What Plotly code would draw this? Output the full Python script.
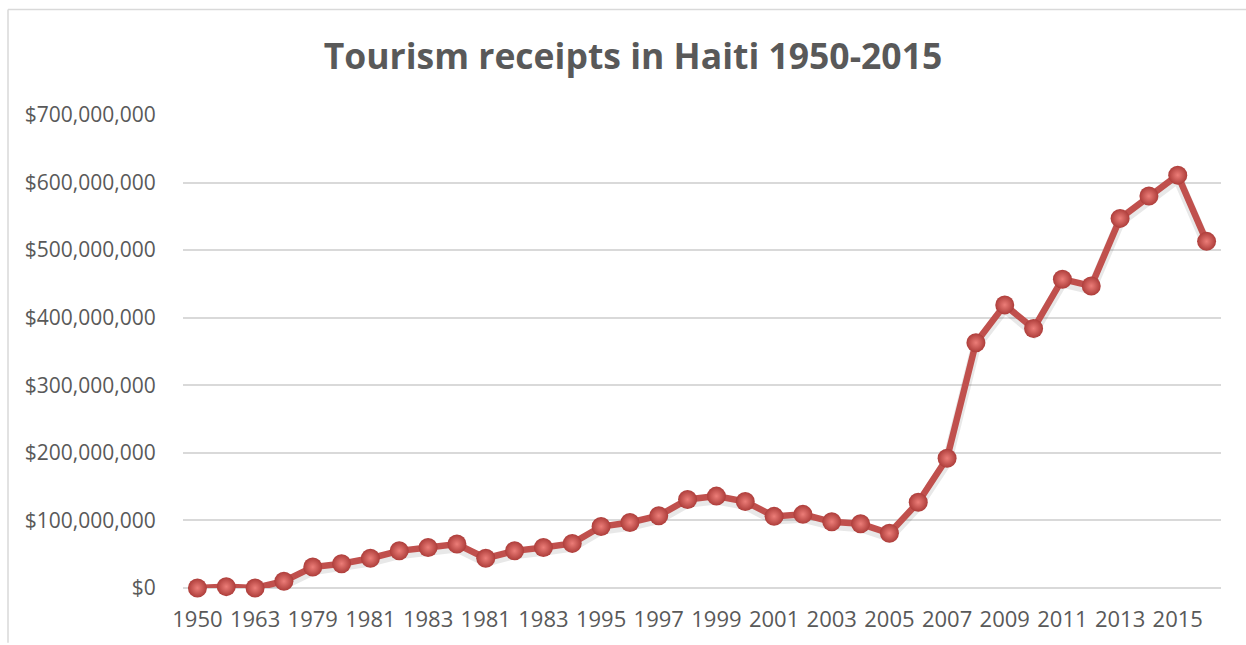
import plotly.graph_objects as go

# Category labels for each data point (every second one is shown on the axis)
categories = [
    "1950", "1960", "1963", "1970", "1979", "1980", "1981", "1982", "1983",
    "1984", "1981", "1982", "1983", "1994", "1995", "1996", "1997", "1998",
    "1999", "2000", "2001", "2002", "2003", "2004", "2005", "2006", "2007",
    "2008", "2009", "2010", "2011", "2012", "2013", "2014", "2015", "2016",
]

# Tourism receipts in US dollars
receipts = [
    0, 2_000_000, 0, 10_000_000, 31_000_000, 36_000_000, 44_000_000,
    55_000_000, 60_000_000, 65_000_000, 44_000_000, 55_000_000, 60_000_000,
    66_000_000, 91_000_000, 97_000_000, 107_000_000, 131_000_000,
    136_000_000, 128_000_000, 106_000_000, 109_000_000, 98_000_000,
    95_000_000, 81_000_000, 127_000_000, 192_000_000, 363_000_000,
    419_000_000, 384_000_000, 457_000_000, 447_000_000, 547_000_000,
    580_000_000, 611_000_000, 513_000_000,
]

y_ticks = [0, 100_000_000, 200_000_000, 300_000_000, 400_000_000,
           500_000_000, 600_000_000, 700_000_000]
y_tick_labels = ["$0", "$100,000,000", "$200,000,000", "$300,000,000",
                 "$400,000,000", "$500,000,000", "$600,000,000", "$700,000,000"]

x_idx = list(range(len(categories)))
text_grey = "#595959"
grid_grey = "#d9d9d9"
line_red = "#c0504d"

W, H = 1246, 645
L, R, T, B = 183, 25, 115, 55
pw, ph = W - L - R, H - T - B

fig = go.Figure()

# soft shadow beneath the line
fig.add_trace(go.Scatter(
    x=x_idx, y=[v - 5_000_000 for v in receipts], mode="lines",
    line=dict(color="rgba(0,0,0,0.09)", width=10),
    hoverinfo="skip", showlegend=False, cliponaxis=False,
))

fig.add_trace(go.Scatter(
    x=x_idx, y=receipts, mode="lines+markers",
    line=dict(color=line_red, width=6.5),
    marker=dict(
        size=19, color="#ad3d3a",
        gradient=dict(type="radial", color="#ec7d78"),
        line=dict(width=0),
    ),
    cliponaxis=False,
    text=categories,
    hovertemplate="%{text}: $%{y:,.0f}<extra></extra>",
    showlegend=False,
))

fig.update_layout(
    width=W, height=H,
    margin=dict(l=L, r=R, t=T, b=B),
    paper_bgcolor="white", plot_bgcolor="white",
    font=dict(family="Open Sans", color=text_grey, size=21),
    title=dict(
        text="<b>Tourism receipts in Haiti 1950-2015</b>",
        x=633 / W, xanchor="center", y=1 - 57 / H, yanchor="middle",
        font=dict(family="Open Sans", size=35.5, color=text_grey),
    ),
    xaxis=dict(
        range=[-0.5, len(categories) - 0.5],
        tickmode="array", tickvals=x_idx[::2], ticktext=categories[::2],
        showgrid=False, zeroline=False, showline=False,
        ticks="outside", ticklen=12, tickcolor="rgba(0,0,0,0)",
        tickfont=dict(size=22, color=text_grey),
        fixedrange=True,
    ),
    yaxis=dict(
        range=[0, 700_000_000],
        tickmode="array", tickvals=y_ticks, ticktext=y_tick_labels,
        showgrid=True, gridcolor=grid_grey, gridwidth=1.5,
        zeroline=True, zerolinecolor=grid_grey, zerolinewidth=1.5,
        showline=False,
        ticks="outside", ticklen=22, tickcolor="rgba(0,0,0,0)",
        tickfont=dict(size=21, color=text_grey),
        fixedrange=True,
    ),
    shapes=[
        # chart frame (top and left edges)
        dict(type="line", xref="paper", yref="paper",
             x0=(8 - L) / pw, x1=(W - L) / pw,
             y0=(H - B - 9) / ph, y1=(H - B - 9) / ph,
             line=dict(color=grid_grey, width=1.5)),
        dict(type="line", xref="paper", yref="paper",
             x0=(8 - L) / pw, x1=(8 - L) / pw,
             y0=(H - B - 9) / ph, y1=-B / ph,
             line=dict(color=grid_grey, width=1.5)),
    ],
)

fig.write_html("out.html")
